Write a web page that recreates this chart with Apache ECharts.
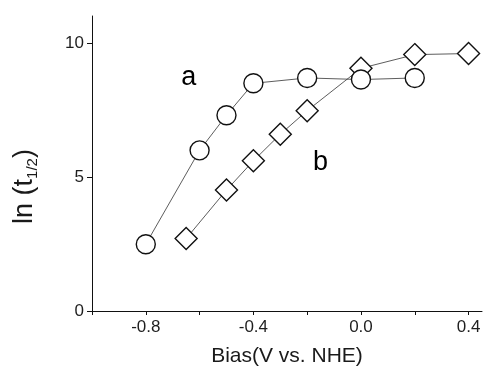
<!DOCTYPE html>
<html>
<head>
<meta charset="utf-8">
<script src="https://cdn.jsdelivr.net/npm/echarts@6/dist/echarts.min.js"></script>
<style>html,body{margin:0;padding:0;background:#fff}#c{width:484px;height:373px}</style>
</head>
<body>
<div id="c"></div>
<script>
// Series a (circles)
var biasA = [-0.8, -0.6, -0.5, -0.4, -0.2, 0.0, 0.2];
var lnA   = [2.49, 5.99, 7.30, 8.49, 8.69, 8.63, 8.69];
// Series b (diamonds)
var biasB = [-0.65, -0.5, -0.4, -0.3, -0.2, 0.0, 0.2, 0.4];
var lnB   = [2.70, 4.51, 5.60, 6.59, 7.47, 9.05, 9.56, 9.60];
// Curve labels
var curveNames = ['a', 'b'];
var curveLabelX = [-0.64, -0.15];
var curveLabelY = [8.71, 5.53];

var FONT = 'Liberation Sans, Arial, sans-serif';
function pairs(xs, ys){ return xs.map(function(x,i){ return [x, ys[i]]; }); }

var chart = echarts.init(document.getElementById('c'), null, {renderer:'canvas'});
chart.setOption({
  animation: false,
  backgroundColor: '#fff',
  grid: {left: 92, right: 2, top: 16, bottom: 62, containLabel: false},
  xAxis: {
    type: 'value', min: -1.0, max: 0.45, interval: 0.2,
    name: 'Bias(V vs. NHE)', nameLocation: 'middle', nameGap: 35,
    nameTextStyle: {fontFamily: FONT, fontSize: 21, color: '#1a1a1a'},
    axisLine: {show: true, onZero: false, lineStyle: {color: '#111', width: 1}},
    axisTick: {show: true, inside: false, length: 4, lineStyle: {color: '#111'}},
    splitLine: {show: false},
    axisLabel: {
      fontFamily: FONT, fontSize: 17, color: '#1e1e1e', margin: 8,
      showMaxLabel: false,
      formatter: function(v){
        var r = Math.round(v*10);
        if (r % 4 !== 0 || r === -10) return '';
        return (r/10).toFixed(1);
      }
    }
  },
  yAxis: {
    type: 'value', min: 0, max: 11, interval: 5,
    name: '{m|ln (t}{s|1/2}{m|)}', nameLocation: 'middle', nameGap: 52,
    nameRotate: 90,
    nameTextStyle: {
      fontFamily: FONT, color: '#1a1a1a', padding: [0, 46, 0, 0],
      rich: {
        m: {fontFamily: FONT, fontSize: 27, color: '#1a1a1a', lineHeight: 30},
        s: {fontFamily: FONT, fontSize: 15, color: '#1a1a1a', lineHeight: 30, verticalAlign: 'bottom', padding: [14, 0, 0, 0]}
      }
    },
    axisLine: {show: true, onZero: false, lineStyle: {color: '#111', width: 1}},
    axisTick: {show: true, inside: false, length: 5, lineStyle: {color: '#111'}},
    splitLine: {show: false},
    axisLabel: {fontFamily: FONT, fontSize: 17, color: '#1e1e1e', margin: 8, showMaxLabel: false}
  },
  series: [
    {
      name: 'b', type: 'line', data: pairs(biasB, lnB),
      symbol: 'diamond', symbolSize: 22, showAllSymbol: true,
      lineStyle: {color: '#333', width: 0.8},
      itemStyle: {color: '#fff', borderColor: '#111', borderWidth: 1.4},
      z: 2
    },
    {
      name: 'a', type: 'line', data: pairs(biasA, lnA),
      symbol: 'circle', symbolSize: 19, showAllSymbol: true,
      lineStyle: {color: '#333', width: 0.8},
      itemStyle: {color: '#fff', borderColor: '#111', borderWidth: 1.4},
      z: 3
    },
    {
      name: 'labels', type: 'scatter', symbolSize: 0, silent: true,
      itemStyle: {opacity: 1, color: '#000'},
      data: curveNames.map(function(n,i){ return {name: n, value: [curveLabelX[i], curveLabelY[i]]}; }),
      label: {show: true, position: 'inside', formatter: '{b}', fontFamily: FONT, fontSize: 27, color: '#000', opacity: 1},
      z: 4
    }
  ]
});
</script>
</body>
</html>
